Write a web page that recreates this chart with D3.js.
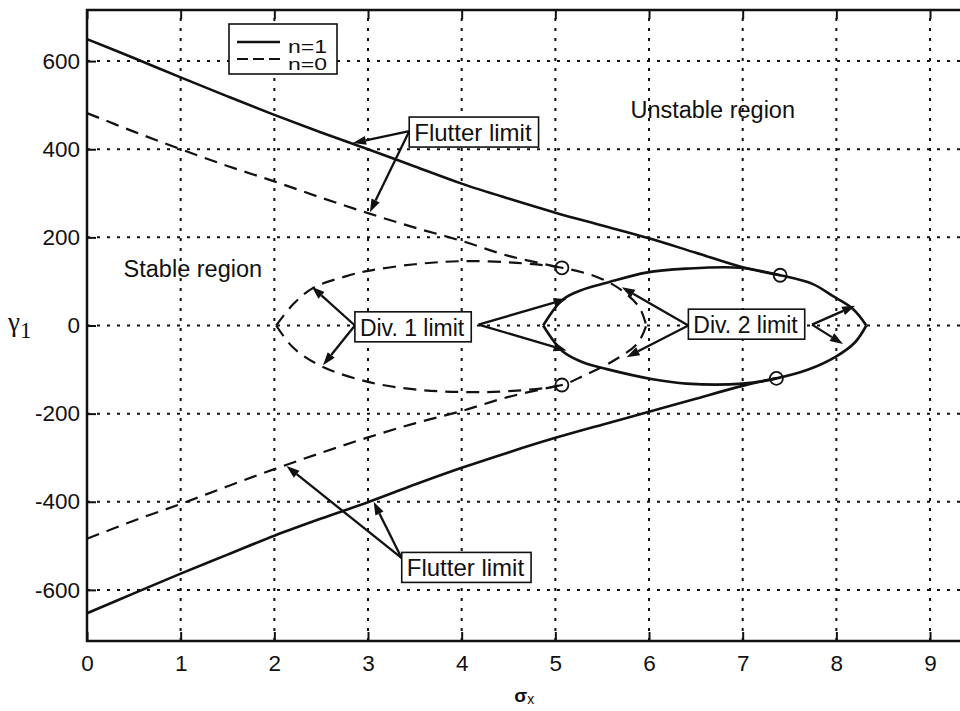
<!DOCTYPE html>
<html>
<head>
<meta charset="utf-8">
<script src="https://cdn.jsdelivr.net/npm/d3@7"></script>
<style>
  body { margin: 0; background: #fff; }
  svg { display: block; font-family: "Liberation Sans", Arial, sans-serif; }
</style>
</head>
<body>
<svg id="chart"></svg>
<script>
// values, pairs are [sigma_x, gamma_1]
const xTicks = [0, 1, 2, 3, 4, 5, 6, 7, 8, 9];
const yTicks = [-600, -400, -200, 0, 200, 400, 600];

// n=1 (solid)
const n1FlutterUpper = [[0, 650], [0.5, 607], [1, 563], [1.5, 520], [2, 478], [2.5, 438], [3, 400],
  [3.5, 361], [4, 322], [4.5, 288], [5, 256], [5.5, 227], [6, 198], [6.5, 165], [7, 132], [7.4, 114]];
const n1FlutterLower = [[0, -653], [0.5, -608], [1, -563], [1.5, -520], [2, -477], [2.5, -438], [3, -401],
  [3.5, -361], [4, -323], [4.5, -288], [5, -255], [5.5, -225], [6, -196], [6.5, -166], [7, -137], [7.36, -120]];
const n1DivUpper = [[4.87, 0], [5.08, 59], [5.3, 82], [5.55, 97], [5.97, 120], [6.4, 129], [6.97, 131],
  [7.4, 114], [7.75, 94], [7.96, 67], [8.18, 37], [8.32, 0]];
const n1DivLower = [[4.87, 0], [5.08, -59], [5.3, -84], [5.55, -99], [6.04, -122], [6.4, -132], [7.0, -132],
  [7.36, -120], [7.7, -100], [8.0, -70], [8.2, -38], [8.32, 0]];
const n1Crossings = [[7.4, 114], [7.36, -120]];

// n=0 (dashed)
const n0FlutterUpper = [[0, 482], [0.5, 440], [1, 400], [1.5, 362], [2, 327], [2.5, 290], [3, 255],
  [3.5, 222], [4, 192], [4.5, 158], [5.07, 131]];
const n0FlutterLower = [[0, -484], [0.5, -443], [1, -405], [1.5, -365], [2, -326], [2.5, -289], [3, -254],
  [3.5, -222], [4, -194], [4.5, -162], [5.07, -135]];
const n0DivUpper = [[2.02, 0], [2.2, 48], [2.42, 86], [2.77, 112], [3.0, 124], [3.5, 139], [4.0, 146],
  [4.59, 142], [5.07, 131], [5.47, 108], [5.72, 78], [5.9, 40], [5.97, 0]];
const n0DivLower = [[2.02, 0], [2.2, -50], [2.5, -92], [3.0, -128], [3.5, -145], [4.0, -151], [4.5, -149],
  [5.07, -135], [5.3, -114], [5.62, -80], [5.88, -40], [5.97, 0]];
const n0Crossings = [[5.07, 131], [5.07, -135]];

const W = 960, H = 711;
const M = { left: 87, top: 10, bottom: 641 };
const INK = "#111";

const svg = d3.select("#chart").attr("width", W).attr("height", H);

const x = d3.scaleLinear().domain([0, 9.4]).range([M.left, M.left + 9.4 * 93.67]);
const y = d3.scaleLinear().domain([-716, 716]).range([M.bottom, M.top]);

// grid
const grid = svg.append("g").attr("stroke", INK).attr("stroke-width", 2).attr("stroke-dasharray", "3,7");
grid.selectAll(".gx").data(xTicks).enter().append("line")
  .attr("x1", d => x(d)).attr("x2", d => x(d))
  .attr("y1", M.bottom).attr("y2", M.top);
grid.selectAll(".gy").data(yTicks).enter().append("line")
  .attr("y1", d => y(d)).attr("y2", d => y(d))
  .attr("x1", M.left).attr("x2", x.range()[1]);

// axes with inside ticks
const axisStyle = g => {
  g.select(".domain").remove();
  g.selectAll(".tick line").attr("stroke", INK).attr("stroke-width", 2);
  g.selectAll(".tick text").attr("fill", INK).style("font-size", "22.5px");
};
svg.append("g").attr("transform", `translate(0,${M.bottom})`)
  .call(d3.axisBottom(x).tickValues(xTicks).tickSize(-9).tickPadding(14).tickFormat(d3.format("d")))
  .call(axisStyle);
svg.append("g").attr("transform", `translate(${M.left},0)`)
  .call(d3.axisLeft(y).tickValues(yTicks).tickSize(-9).tickPadding(7).tickFormat(d => d < 0 ? "-" + (-d) : d))
  .call(axisStyle);
svg.append("g").attr("transform", `translate(0,${M.top})`)
  .call(d3.axisTop(x).tickValues(xTicks).tickSize(-9).tickFormat(""))
  .call(axisStyle);

// frame
svg.append("rect")
  .attr("x", M.left).attr("y", M.top)
  .attr("width", x.range()[1] - M.left).attr("height", M.bottom - M.top)
  .attr("fill", "none").attr("stroke", INK).attr("stroke-width", 2.5);

// curves
const line = d3.line().x(d => x(d[0])).y(d => y(d[1])).curve(d3.curveCatmullRom);
const curves = svg.append("g").attr("fill", "none").attr("stroke", INK);
[n1FlutterUpper, n1FlutterLower, n1DivUpper, n1DivLower].forEach(c => {
  curves.append("path").attr("d", line(c)).attr("stroke-width", 2.6);
});
[n0FlutterUpper, n0FlutterLower, n0DivUpper, n0DivLower].forEach(c => {
  curves.append("path").attr("d", line(c)).attr("stroke-width", 2.2).attr("stroke-dasharray", "13,8");
});
curves.selectAll("circle").data(n1Crossings.concat(n0Crossings)).enter().append("circle")
  .attr("cx", d => x(d[0])).attr("cy", d => y(d[1])).attr("r", 6.5)
  .attr("stroke-width", 1.8).attr("fill", "none");

// annotations: box anchor is left edge / vertical centre, arrows go from -> to
const annotations = [
  { text: "Flutter limit", size: 24, at: [3.44, 439], arrows: [[3.44, 441, 2.84, 414], [3.44, 441, 3.02, 257]] },
  { text: "Div. 1 limit", size: 23, at: [2.86, -3], arrows: [[2.86, 0, 2.40, 88], [2.86, 0, 2.52, -90], [4.18, 2, 5.12, 60], [4.18, 2, 5.12, -57]] },
  { text: "Div. 2 limit", size: 23, at: [6.42, 3], arrows: [[6.42, 0, 5.71, 87], [6.42, 0, 5.76, -72], [7.74, 2, 8.2, 45], [7.74, 2, 8.07, -42]] },
  { text: "Flutter limit", size: 24, at: [3.36, -549], arrows: [[3.36, -528, 2.13, -319], [3.36, -528, 3.06, -400]] }
];

function drawArrow(g, x0, y0, x1, y1) {
  const a = Math.atan2(y1 - y0, x1 - x0), L = 13, hw = 4.5;
  const bx = x1 - L * Math.cos(a), by = y1 - L * Math.sin(a);
  g.append("line").attr("x1", x0).attr("y1", y0).attr("x2", bx).attr("y2", by)
    .attr("stroke", INK).attr("stroke-width", 2.3);
  g.append("path")
    .attr("d", `M${x1},${y1}L${bx + hw * Math.sin(a)},${by - hw * Math.cos(a)}L${bx - hw * Math.sin(a)},${by + hw * Math.cos(a)}Z`)
    .attr("fill", INK);
}

const ann = svg.append("g");
annotations.forEach(a => {
  a.arrows.forEach(r => drawArrow(ann, x(r[0]), y(r[1]), x(r[2]), y(r[3])));
});
annotations.forEach(a => {
  const g = ann.append("g");
  const rect = g.append("rect");
  const t = g.append("text").attr("x", x(a.at[0]) + 5).attr("y", y(a.at[1]) + 9)
    .style("font-size", a.size + "px").attr("fill", INK).text(a.text);
  const w = t.node().getComputedTextLength();
  rect.attr("x", x(a.at[0])).attr("y", y(a.at[1]) - 15).attr("width", w + 12).attr("height", 30)
    .attr("fill", "#fff").attr("stroke", INK).attr("stroke-width", 1.6);
});

// region labels
svg.append("text").attr("x", x(6.68)).attr("y", y(470)).attr("text-anchor", "middle")
  .style("font-size", "23.5px").attr("fill", INK).text("Unstable region");
svg.append("text").attr("x", x(1.13)).attr("y", y(110)).attr("text-anchor", "middle")
  .style("font-size", "23.5px").attr("fill", INK).text("Stable region");

// legend
const lg = svg.append("g").attr("transform", "translate(229,24)");
lg.append("rect").attr("width", 108).attr("height", 50).attr("fill", "#fff")
  .attr("stroke", INK).attr("stroke-width", 1.6);
lg.append("line").attr("x1", 8).attr("x2", 51).attr("y1", 18).attr("y2", 18)
  .attr("stroke", INK).attr("stroke-width", 2.5);
lg.append("line").attr("x1", 8).attr("x2", 51).attr("y1", 35).attr("y2", 35)
  .attr("stroke", INK).attr("stroke-width", 2).attr("stroke-dasharray", "11,5");
lg.append("text").attr("x", 59).attr("y", 29).attr("textLength", 39).attr("lengthAdjust", "spacingAndGlyphs")
  .style("font-size", "18px").attr("fill", INK).text("n=1");
lg.append("text").attr("x", 59).attr("y", 46).attr("textLength", 39).attr("lengthAdjust", "spacingAndGlyphs")
  .style("font-size", "16px").attr("fill", INK).text("n=0");

// axis labels
const yl = svg.append("text").attr("x", 8).attr("y", 331)
  .style("font-family", "'Liberation Serif', 'Times New Roman', serif").style("font-size", "27px").attr("fill", INK);
yl.append("tspan").text("γ");
yl.append("tspan").attr("dy", 7).style("font-size", "23px").text("1");

const xl = svg.append("text").attr("x", x.range()[0] + (x(9.4) - x(0)) / 2 - 3).attr("y", 702)
  .attr("text-anchor", "middle").attr("fill", INK);
xl.append("tspan").style("font-size", "19px").style("font-weight", "bold").text("σ");
xl.append("tspan").attr("dy", 2).style("font-size", "14px").text("x");
</script>
</body>
</html>
